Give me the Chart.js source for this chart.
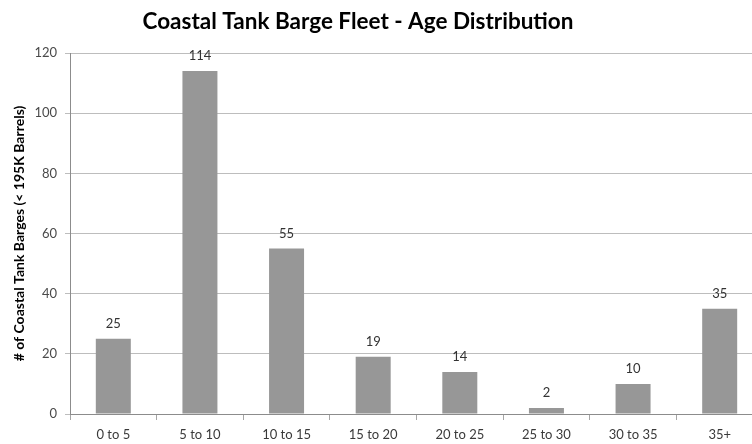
<!DOCTYPE html>
<html>
<head>
<meta charset="utf-8">
<title>Coastal Tank Barge Fleet - Age Distribution</title>
<script src="https://cdn.jsdelivr.net/npm/chart.js@4/dist/chart.umd.min.js"></script>
<style>
  html, body { margin: 0; padding: 0; background: #fff; overflow: hidden; }
  #wrap { width: 752px; height: 444px; overflow: hidden; position: relative; }
  canvas { display: block; }
</style>
</head>
<body>
<div id="wrap">
  <canvas id="ageChart" width="763" height="444"></canvas>
</div>
<script>
// Faixas de idade (anos) e número de barcaças em cada faixa
const ageBins = ['0 to 5', '5 to 10', '10 to 15', '15 to 20', '20 to 25', '25 to 30', '30 to 35', '35+'];
const bargeCounts = [25, 114, 55, 19, 14, 2, 10, 35];
const yTicks = [0, 20, 40, 60, 80, 100, 120];

const chartTitle = 'Coastal Tank Barge Fleet - Age Distribution';
const yAxisTitle = '# of Coastal Tank Barges (< 195K Barrels)';

const baseFont = 'Lato, "Open Sans", sans-serif';

// Título desenhado à mão para ficar centrado onde queremos
const titlePlugin = {
    id: 'manualTitle',
    afterDraw(chart) {
        const ctx = chart.ctx;
        ctx.save();
        ctx.font = 'bold 22.5px ' + baseFont;
        ctx.fillStyle = '#000';
        ctx.textAlign = 'center';
        ctx.textBaseline = 'alphabetic';
        ctx.fillText(chartTitle, 358, 29);
        ctx.restore();
    }
};

// Valores escritos acima de cada barra
const valueLabels = {
    id: 'valueLabels',
    afterDatasetsDraw(chart) {
        const ctx = chart.ctx;
        const meta = chart.getDatasetMeta(0);
        ctx.save();
        ctx.font = '13px ' + baseFont;
        ctx.fillStyle = '#333';
        ctx.textAlign = 'center';
        ctx.textBaseline = 'middle';
        meta.data.forEach((bar, i) => {
            ctx.fillText(String(bargeCounts[i]), bar.x, bar.y - 15);
        });
        ctx.restore();
    }
};

Chart.defaults.font.family = baseFont;

new Chart(document.getElementById('ageChart'), {
    type: 'bar',
    data: {
        labels: ageBins,
        datasets: [{
            data: bargeCounts,
            backgroundColor: '#979797',
            borderWidth: 0,
            barPercentage: 0.404,
            categoryPercentage: 1
        }]
    },
    options: {
        responsive: false,
        animation: false,
        devicePixelRatio: 1,
        layout: { padding: { top: 53, left: 0, right: 0, bottom: 0 } },
        plugins: {
            legend: { display: false },
            title: { display: false },
            tooltip: { enabled: false }
        },
        scales: {
            x: {
                afterFit(scale) { scale.height = 30; },
                grid: {
                    drawOnChartArea: false,
                    drawTicks: true,
                    tickLength: 6,
                    color: '#a6a6a6',
                    offset: true
                },
                border: { display: true, color: '#8c8c8c' },
                ticks: {
                    color: '#3a3a3a',
                    font: { size: 13 },
                    padding: 7,
                    maxRotation: 0
                }
            },
            y: {
                min: 0,
                max: 120,
                afterFit(scale) { scale.width = 70; },
                afterBuildTicks(scale) {
                    scale.ticks = yTicks.map(v => ({ value: v }));
                },
                grid: {
                    color: '#bdbdbd',
                    tickLength: 5,
                    drawTicks: true
                },
                border: { display: true, color: '#8c8c8c' },
                ticks: {
                    color: '#4a4a4a',
                    font: { size: 13 },
                    padding: 8
                },
                title: {
                    display: true,
                    text: yAxisTitle,
                    color: '#000',
                    font: { size: 14, weight: 'bold' },
                    padding: { top: 11, bottom: 0 }
                }
            }
        }
    },
    plugins: [titlePlugin, valueLabels]
});
</script>
</body>
</html>
